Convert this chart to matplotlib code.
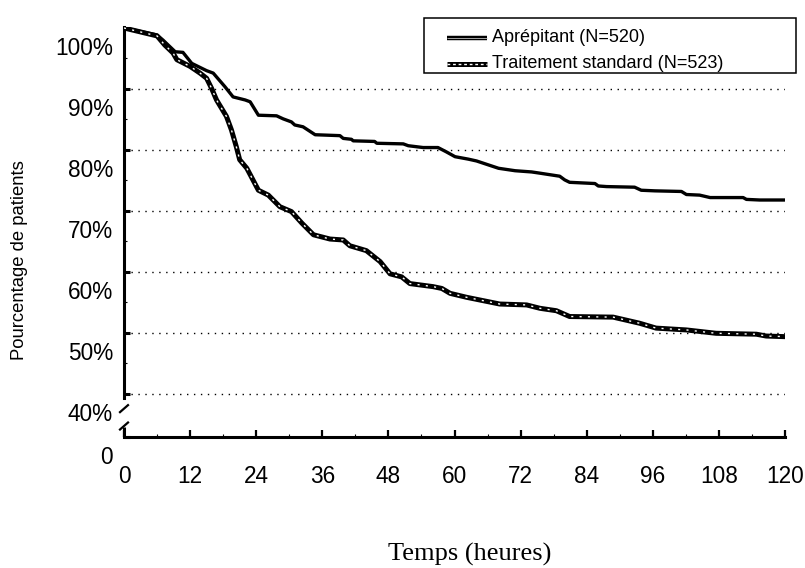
import matplotlib
matplotlib.use("Agg")
import matplotlib.pyplot as plt
from matplotlib.transforms import ScaledTranslation, blended_transform_factory
from matplotlib.lines import Line2D
from matplotlib.patches import Rectangle

# ---------------- data ----------------
apr_hours = [0, 6, 7.1, 9.3, 10.7, 12.3, 15, 16.2, 18.3, 19.8, 22, 22.9, 24.4, 27.7, 28.9,
             30.4, 31, 32.5, 34.7, 39.2, 39.8, 41.3, 41.6, 45.5, 45.9, 50.7, 51.6, 54.3,
             57, 58.5, 60.1, 62.5, 64, 66, 68, 71, 74, 75.5, 79.1, 80, 80.9, 85.5, 86.1,
             87.6, 92.7, 93.9, 96.4, 101.2, 102.1, 104.5, 106.4, 112.4, 113, 115.4, 120]
apr_pct = [100, 98.85, 98, 96.1, 96, 94.2, 93, 92.6, 90.4, 88.7, 88.2, 87.9, 85.7, 85.6, 85.1,
           84.6, 84.1, 83.8, 82.5, 82.35, 81.9, 81.75, 81.5, 81.4, 81.1, 81, 80.7, 80.4,
           80.4, 79.7, 78.9, 78.5, 78.2, 77.6, 77.0, 76.6, 76.4, 76.2, 75.7, 75.1, 74.7, 74.5, 74.1,
           74, 73.9, 73.4, 73.3, 73.2, 72.7, 72.6, 72.2, 72.2, 71.9, 71.8, 71.8]

std_hours = [0, 6, 7.4, 8.9, 9.6, 12.0, 13.8, 15, 15.9, 16.8, 18.6, 19.5, 20.4, 21, 22.3,
             24.4, 26.2, 28.3, 30.4, 32.3, 34.4, 37.4, 39.8, 41, 44, 46.5, 48.3, 50.4,
             51.9, 56.1, 57.7, 59.2, 62.2, 65.2, 68.2, 73.1, 75.5, 78.5, 80.9, 88.8, 91.2,
             93.6, 96.6, 102.1, 107.5, 114.8, 116.6, 120]
std_pct = [100, 98.7, 97.2, 95.9, 94.8, 93.7, 92.6, 91.75, 90.1, 88.2, 85.5, 83.3, 80.5, 78.4, 77.0,
           73.4, 72.6, 70.7, 69.9, 68, 66.1, 65.4, 65.25, 64.3, 63.5, 61.7, 59.7, 59.2,
           58.1, 57.6, 57.3, 56.5, 55.85, 55.3, 54.75, 54.6, 54.05, 53.65, 52.7, 52.6, 52.1,
           51.6, 50.8, 50.5, 49.95, 49.8, 49.5, 49.4]

series_labels = ["Aprépitant (N=520)", "Traitement standard (N=523)"]
x_ticks = [0, 12, 24, 36, 48, 60, 72, 84, 96, 108, 120]
y_ticks = [40, 50, 60, 70, 80, 90, 100]
y_tick_labels = ["40%", "50%", "60%", "70%", "80%", "90%", "100%"]
x_label = "Temps (heures)"
y_label = "Pourcentage de patients"

# ---------------- figure ----------------
plt.rcParams['font.family'] = ['Liberation Sans', 'DejaVu Sans']
W, H = 805, 568
fig = plt.figure(figsize=(W / 100, H / 100), dpi=100)
ax = fig.add_axes([124 / W, 1 - 437 / H, (785 - 124) / W, (437 - 27) / H])
y_bottom = 32.95
ax.set_xlim(0, 120)
ax.set_ylim(y_bottom, 100.16)

# gridlines
for v in y_ticks[:-1]:
    ax.axhline(v, color='black', lw=1.0, ls=(0, (1, 4)), zorder=1)

# curves
ax.plot(apr_hours, apr_pct, color='black', lw=2.4, zorder=3)
ax.plot(std_hours, std_pct, color='black', lw=3.6, zorder=3)
ax.plot(std_hours, std_pct, color='white', lw=1.0, ls=(0, (1.5, 4.5)), zorder=4)

# spines
for s in ['top', 'right']:
    ax.spines[s].set_visible(False)
ax.spines['left'].set_linewidth(2.2)
ax.spines['bottom'].set_linewidth(2.2)
ax.spines['left'].set_bounds(39.35, 100.16)

# lower left spine piece + break marks
trans_b = blended_transform_factory(ax.transAxes, ax.transData)
ax.plot([0, 0], [y_bottom, 34.6], color='black', lw=2.2, transform=trans_b,
        clip_on=False, solid_capstyle='butt')
for yv in [37.6, 34.75]:
    x0, y0 = ax.transData.transform((0, yv))
    fig.add_artist(Line2D([(x0 - 4) / W, (x0 + 4) / W], [(y0 - 3.5) / H, (y0 + 3.5) / H],
                          color='black', lw=1.6, transform=fig.transFigure))

# ticks
ax.set_xticks(x_ticks)
ax.set_xticks(list(range(6, 120, 12)), minor=True)
ax.set_yticks([y_bottom] + y_ticks)
ax.set_yticklabels(["0"] + y_tick_labels)
ax.set_yticks([45, 55, 65, 75, 85, 95], minor=True)
ax.tick_params(axis='x', which='major', direction='in', length=5, width=1.6, pad=20, labelsize=16.3)
ax.tick_params(axis='x', which='minor', direction='in', length=2.5, width=0.8)
ax.tick_params(axis='y', which='major', direction='in', length=4, width=2.2, pad=8, labelsize=16.3)
ax.tick_params(axis='y', which='minor', direction='in', length=2.5, width=0.8)
for lab in ax.get_yticklabels():
    lab.set_transform(lab.get_transform() + ScaledTranslation(0, -18 / 100, fig.dpi_scale_trans))

# axis labels
fig.text(19 / W, 1 - 260 / H, y_label, rotation=90, ha='center', va='center', fontsize=13.3)
fig.text(470 / W, 1 - 554 / H, x_label, ha='center', va='center', fontsize=19,
         family=['Liberation Serif', 'DejaVu Serif'])

# legend (drawn manually to match the box layout)
fx = lambda p: p / W
fy = lambda p: 1 - p / H
fig.add_artist(Rectangle((fx(424), fy(73)), fx(796) - fx(424), fy(18) - fy(73),
                         facecolor='white', edgecolor='black', lw=1.1,
                         transform=fig.transFigure, zorder=5))
row_y = [38, 64]
fig.add_artist(Line2D([fx(447), fx(487)], [fy(row_y[0])] * 2, color='black', lw=3.2,
                      transform=fig.transFigure, zorder=6, solid_capstyle='butt'))
fig.add_artist(Line2D([fx(447), fx(487)], [fy(row_y[0])] * 2, color='#bbbbbb', lw=0.6,
                      transform=fig.transFigure, zorder=7, solid_capstyle='butt'))
fig.add_artist(Line2D([fx(447), fx(487)], [fy(row_y[1])] * 2, color='black', lw=3.6,
                      transform=fig.transFigure, zorder=6, solid_capstyle='butt'))
fig.add_artist(Line2D([fx(447), fx(487)], [fy(row_y[1])] * 2, color='white', lw=1.0,
                      ls=(0, (2, 2)), transform=fig.transFigure, zorder=7))
for lbl, ry in zip(series_labels, row_y):
    fig.text(fx(492), fy(ry), lbl, ha='left', va='center', fontsize=13, zorder=8)

fig.savefig("out.png", dpi=100)
